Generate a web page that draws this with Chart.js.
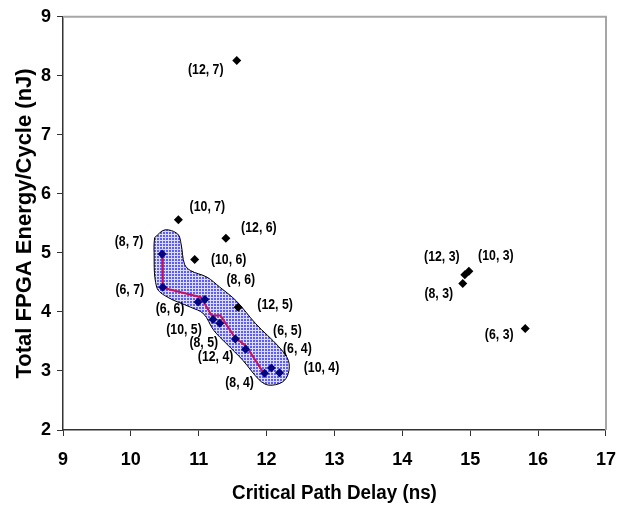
<!DOCTYPE html>
<html>
<head>
<meta charset="utf-8">
<script src="https://cdn.jsdelivr.net/npm/chart.js@4.4.1/dist/chart.umd.min.js"></script>
<style>
  html, body { margin: 0; padding: 0; background: #fff; }
  #wrap { width: 629px; height: 508px; }
</style>
</head>
<body>
<div id="wrap"><canvas id="myChart" width="629" height="508"></canvas></div>
<script>
// design points outside the selected region (black diamonds)
const otherDelay = [11.56, 10.70, 11.40, 10.94, 11.58, 14.98, 14.92, 14.89, 15.81];
const otherEnergy = [8.26, 5.56, 5.25, 4.89, 4.08, 4.69, 4.63, 4.48, 3.72];
const otherLabels = ['(12, 7)', '(10, 7)', '(12, 6)', '(10, 6)', '(12, 5)', '(10, 3)', '(12, 3)', '(8, 3)', '(6, 3)'];

// design points inside the selected region (blue diamonds)
const selDelay = [10.46, 10.47, 10.99, 11.09, 11.21, 11.31, 11.54, 11.69, 11.97, 12.07, 12.19];
const selEnergy = [4.98, 4.42, 4.17, 4.21, 3.87, 3.81, 3.54, 3.37, 2.96, 3.05, 2.97];
const selLabels = ['(8, 7)', '(6, 7)', '(6, 6)', '(8, 6)', '(10, 5)', '(8, 5)', '(6, 5)', '(12, 4)', '(8, 4)', '(6, 4)', '(10, 4)'];

// trade-off curve through the region
const frontDelay = [10.46, 10.47, 11.03, 11.19, 11.32, 11.53, 11.70, 11.96];
const frontEnergy = [4.98, 4.41, 4.25, 3.94, 3.94, 3.57, 3.42, 2.96];

// outline of the shaded region
const regionDelay = [10.35, 10.50, 10.69, 10.74, 10.79, 10.88, 11.12, 11.31, 11.55, 11.84, 12.18, 12.32, 12.32, 12.23, 12.03, 11.89, 11.65, 11.41, 11.22, 11.07, 10.88, 10.54, 10.38, 10.34, 10.35];
const regionEnergy = [5.26, 5.39, 5.32, 5.15, 4.81, 4.70, 4.59, 4.42, 4.19, 3.80, 3.41, 3.18, 2.96, 2.81, 2.76, 2.85, 3.18, 3.46, 3.69, 3.97, 4.08, 4.25, 4.42, 5.09, 5.26];

const xTitle = 'Critical Path Delay (ns)';
const yTitle = 'Total FPGA Energy/Cycle (nJ)';

// label placement (pixels from point)
const otherOffsets = [[-31, 9], [29, -13], [33, -10], [34, 0], [37, -2], [27, -15], [-23, -18], [-24, 10], [-26, 6]];
const selOffsets = [[-33, -12], [-33, 3], [-28, 7], [36, -20], [-29, 10], [-16, 20], [52, -8], [-30, 8], [-25, 10], [26, -19], [42, -5]];

function toPoints(xs, ys) {
    return xs.map(function (x, i) { return {x: x, y: ys[i]}; });
}

const canvas = document.getElementById('myChart');

function hatch() {
    const c = document.createElement('canvas');
    c.width = 3;
    c.height = 3;
    const g = c.getContext('2d');
    g.fillStyle = '#5c5cf8';
    g.fillRect(0, 0, 3, 3);
    g.fillStyle = '#dcdcff';
    g.fillRect(0, 0, 3, 1);
    g.fillRect(0, 0, 1, 3);
    return canvas.getContext('2d').createPattern(c, 'repeat');
}

const font = "'Liberation Sans', Arial, sans-serif";
const squeeze = 0.82;

// point labels, x title and gray top/right frame
const pointLabels = {
    id: 'pointLabels',
    afterDatasetsDraw(chart) {
        const ctx = chart.ctx;
        const area = chart.chartArea;
        ctx.save();
        ctx.strokeStyle = '#a6a6a6';
        ctx.lineWidth = 2;
        ctx.beginPath();
        ctx.moveTo(area.left, area.top);
        ctx.lineTo(area.right, area.top);
        ctx.lineTo(area.right, area.bottom);
        ctx.stroke();

        ctx.fillStyle = '#000';
        ctx.textAlign = 'center';
        ctx.textBaseline = 'middle';
        ctx.font = 'bold 15px ' + font;
        chart.data.datasets.forEach(function (ds, di) {
            if (!ds.pointText) return;
            const meta = chart.getDatasetMeta(di);
            meta.data.forEach(function (pt, i) {
                const off = ds.pointOffsets[i];
                ctx.save();
                ctx.translate(pt.x + off[0], pt.y + off[1]);
                ctx.scale(squeeze, 1);
                ctx.fillText(ds.pointText[i], 0, 0);
                ctx.restore();
            });
        });

        ctx.font = 'bold 20px ' + font;
        ctx.translate((area.left + area.right) / 2, chart.height - 15);
        ctx.scale(0.94, 1);
        ctx.fillText(xTitle, 0, 0);
        ctx.restore();
    }
};

const config = {
    type: 'scatter',
    data: {
        datasets: [
            {
                type: 'line',
                label: 'region',
                data: toPoints(regionDelay, regionEnergy),
                borderColor: '#000',
                borderWidth: 1,
                backgroundColor: hatch(),
                fill: 'shape',
                tension: 0.35,
                pointRadius: 0,
                order: 4
            },
            {
                type: 'line',
                label: 'front',
                data: toPoints(frontDelay, frontEnergy),
                borderColor: '#c8145a',
                borderWidth: 2,
                fill: false,
                tension: 0,
                pointRadius: 0,
                order: 3
            },
            {
                label: 'selected',
                data: toPoints(selDelay, selEnergy),
                pointStyle: 'rectRot',
                pointRadius: 4.5,
                backgroundColor: '#06067e',
                borderColor: '#06067e',
                borderWidth: 0,
                pointText: selLabels,
                pointOffsets: selOffsets,
                order: 2
            },
            {
                label: 'other',
                data: toPoints(otherDelay, otherEnergy),
                pointStyle: 'rectRot',
                pointRadius: 4.5,
                backgroundColor: '#000',
                borderColor: '#000',
                borderWidth: 0,
                pointText: otherLabels,
                pointOffsets: otherOffsets,
                order: 1
            }
        ]
    },
    options: {
        responsive: false,
        animation: false,
        layout: {
            padding: {top: 15, right: 11, left: 0, bottom: 0}
        },
        plugins: {
            legend: {display: false},
            tooltip: {enabled: false}
        },
        scales: {
            x: {
                type: 'linear',
                min: 9,
                max: 17,
                ticks: {
                    stepSize: 1,
                    color: '#000',
                    padding: 13,
                    font: {family: font, size: 18, weight: 'bold'}
                },
                grid: {
                    drawOnChartArea: false,
                    tickLength: 6,
                    color: '#333'
                },
                border: {color: '#333', width: 1.5},
                afterFit: function (scale) { scale.height = 78; }
            },
            y: {
                type: 'linear',
                min: 2,
                max: 9,
                ticks: {
                    stepSize: 1,
                    color: '#000',
                    padding: 6,
                    font: {family: font, size: 18, weight: 'bold'}
                },
                grid: {
                    drawOnChartArea: false,
                    tickLength: 6,
                    color: '#333'
                },
                border: {color: '#333', width: 1.5},
                title: {
                    display: true,
                    text: yTitle,
                    color: '#000',
                    padding: {top: 12, bottom: 0},
                    font: {family: font, size: 22, weight: 'bold'}
                },
                afterFit: function (scale) { scale.width = 63; }
            }
        }
    },
    plugins: [pointLabels]
};

const myChart = new Chart(canvas, config);
</script>
</body>
</html>
